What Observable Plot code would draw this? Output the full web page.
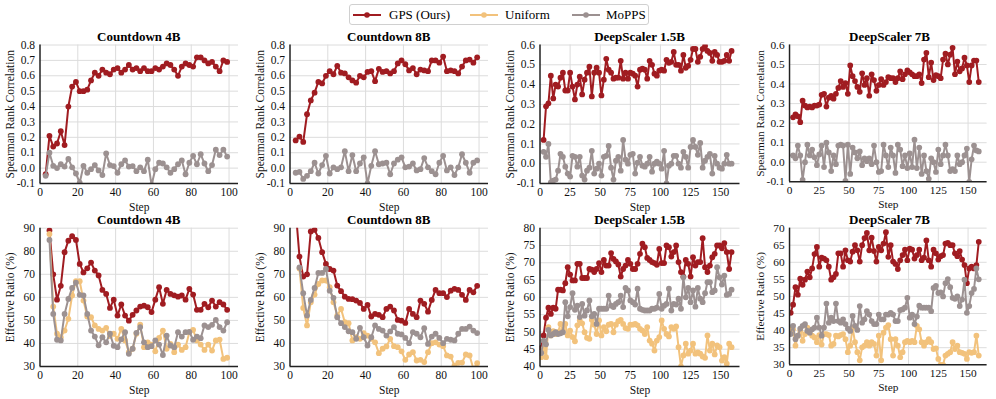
<!DOCTYPE html>
<html><head><meta charset="utf-8">
<script src="https://cdn.jsdelivr.net/npm/d3@7"></script>
<script src="https://cdn.jsdelivr.net/npm/@observablehq/plot@0.6"></script>
<style>
body{margin:0;background:#fff;font-family:"Liberation Serif","Times New Roman",serif;}
#root{position:relative;width:996px;height:399px;overflow:hidden;background:#fff;}
.panel{position:absolute;}
.title{position:absolute;font-weight:bold;font-size:13px;line-height:13px;color:#000;white-space:nowrap;transform:translateX(-50%);}
.legend{position:absolute;left:349px;top:4px;width:300px;height:21px;border:1px solid #d0d0d0;border-radius:3px;background:#fff;box-sizing:border-box;}
.lg-sw{position:absolute;top:3px;}
.lg-tx{position:absolute;top:2px;font-size:13px;line-height:15px;color:#000;white-space:nowrap;}
</style></head>
<body><div id="root"></div>
<script>
// ---------- data ----------
const seriesNames = ["GPS (Ours)", "Uniform", "MoPPS"];
const seriesColors = ["#a01c21", "#f2c27c", "#9c9191"];

const stepsCountdown = [3,5,7,9,11,13,15,17,19,21,23,25,27,29,31,33,35,37,39,41,43,45,47,49,51,53,55,57,59,61,63,65,67,69,71,73,75,77,79,81,83,85,87,89,91,93,95,97,99];
const stepsDeepBottom = [1,3,5,7,9,11,13,15,17,19,21,23,25,27,29,31,33,35,37,39,41,43,45,47,49,51,53,55,57,59,61,63,65,67,69,71,73,75,77,79,81,83,85,87,89,91,93,95,97,99,101,103,105,107,109,111,113,115,117,119,121,123,125,127,129,131,133,135,137,139,141,143,145,147,149,151,153,155,157,159];
const stepsDeepTop = [3,5,7,9,11,13,15,17,19,21,23,25,27,29,31,33,35,37,39,41,43,45,47,49,51,53,55,57,59,61,63,65,67,69,71,73,75,77,79,81,83,85,87,89,91,93,95,97,99,101,103,105,107,109,111,113,115,117,119,121,123,125,127,129,131,133,135,137,139,141,143,145,147,149,151,153,155,157,159];

const panelTitles = ["Countdown 4B", "Countdown 8B", "DeepScaler 1.5B", "DeepScaler 7B"];
const countdownXTicks = [0,20,40,60,80,100];
const deepXTicks = [0,25,50,75,100,125,150];
const corrTicksCountdown = [-0.1,0,0.1,0.2,0.3,0.4,0.5,0.6,0.7,0.8];
const corrTicksDeep = [-0.1,0,0.1,0.2,0.3,0.4,0.5,0.6];
const ratioTicksCountdown = [30,40,50,60,70,80,90];
const ratioTicksDeep15 = [40,45,50,55,60,65,70,75,80];
const ratioTicksDeep7 = [30,35,40,45,50,55,60,65,70];

// Spearman rank correlation (top row)
const cd4CorrGPS = [-0.04,0.21,0.14,0.16,0.24,0.15,0.40,0.53,0.56,0.50,0.50,0.51,0.57,0.62,0.60,0.64,0.62,0.61,0.64,0.65,0.62,0.64,0.67,0.64,0.65,0.63,0.65,0.63,0.63,0.65,0.64,0.66,0.68,0.67,0.64,0.60,0.66,0.68,0.67,0.66,0.72,0.72,0.70,0.68,0.69,0.66,0.63,0.70,0.69];
const cd4CorrMoPPS = [-0.05,0.10,0.015,0.0,0.025,0.01,0.06,0.005,-0.035,-0.095,0.015,-0.03,-0.007,0.02,-0.015,-0.045,0.095,0.02,0.013,-0.03,0.025,0.05,0.01,0.013,-0.02,0.005,-0.02,0.055,-0.11,-0.007,0.035,0.03,0.005,-0.03,-0.007,0.025,0.05,-0.04,0.035,0.08,0.025,0.09,0.03,-0.02,0.02,0.12,0.085,0.12,0.075];
const cd8CorrGPS = [0.18,0.205,0.17,0.35,0.44,0.49,0.56,0.55,0.60,0.63,0.61,0.665,0.62,0.615,0.59,0.57,0.555,0.60,0.59,0.625,0.63,0.565,0.645,0.625,0.63,0.615,0.63,0.68,0.70,0.675,0.635,0.65,0.61,0.64,0.635,0.63,0.70,0.70,0.685,0.725,0.63,0.635,0.63,0.615,0.66,0.70,0.705,0.685,0.72];
const cd8CorrMoPPS = [-0.03,-0.025,-0.07,-0.05,-0.02,0.035,-0.035,0.02,0.08,-0.035,0.005,-0.007,0.005,0.11,-0.02,0.085,-0.02,0.03,0.07,-0.1,0.015,0.11,0.025,0.03,0.035,-0.04,0.03,0.055,0.07,0.005,0.01,0.03,-0.015,-0.007,0.065,0.005,-0.02,-0.04,0.035,0.08,-0.015,0.005,-0.045,0.005,0.09,0.035,-0.03,0.035,0.05];
const ds15CorrGPS = [0.12,0.29,0.305,0.445,0.33,0.40,0.39,0.435,0.46,0.37,0.37,0.46,0.39,0.325,0.40,0.44,0.35,0.425,0.46,0.49,0.34,0.46,0.485,0.46,0.345,0.425,0.53,0.475,0.46,0.43,0.435,0.435,0.52,0.43,0.46,0.43,0.46,0.455,0.445,0.39,0.475,0.48,0.475,0.43,0.52,0.50,0.455,0.445,0.47,0.475,0.47,0.525,0.51,0.515,0.565,0.50,0.50,0.47,0.55,0.485,0.495,0.525,0.58,0.58,0.515,0.54,0.58,0.595,0.57,0.56,0.52,0.565,0.55,0.515,0.515,0.52,0.55,0.52,0.57];
const ds15CorrMoPPS = [0.06,0.035,0.10,-0.095,-0.085,-0.08,-0.035,0.05,0.035,-0.015,-0.05,-0.065,0.04,0.035,-0.015,0.035,-0.06,-0.08,-0.035,-0.02,0.065,-0.05,-0.025,0.0,-0.06,0.035,0.04,0.09,-0.02,-0.08,0.015,0.035,-0.035,0.12,0.02,0.0,0.045,0.05,-0.05,0.005,0.035,-0.01,-0.015,0.0,0.035,-0.04,0.0,0.01,0.0,-0.025,0.065,-0.1,-0.01,0.0,0.04,0.04,0.0,-0.02,0.06,0.035,-0.02,0.085,0.12,0.085,0.045,0.105,-0.02,0.015,0.035,0.05,-0.05,0.04,0.0,-0.02,-0.025,0.0,0.045,0.0,0.0];
const ds7CorrGPS = [0.23,0.245,0.235,0.205,0.315,0.29,0.28,0.285,0.28,0.29,0.29,0.295,0.345,0.35,0.285,0.33,0.34,0.325,0.35,0.38,0.415,0.385,0.405,0.35,0.495,0.44,0.415,0.385,0.36,0.455,0.395,0.43,0.34,0.45,0.42,0.365,0.395,0.425,0.395,0.41,0.435,0.43,0.43,0.41,0.43,0.465,0.425,0.45,0.47,0.46,0.45,0.44,0.44,0.45,0.405,0.525,0.56,0.435,0.51,0.42,0.445,0.44,0.43,0.525,0.555,0.50,0.55,0.585,0.45,0.515,0.465,0.48,0.535,0.495,0.41,0.495,0.52,0.52,0.41];
const ds7CorrMoPPS = [0.035,0.02,0.085,0.035,-0.09,0.0,0.09,0.035,0.065,0.025,-0.015,0.04,0.085,-0.025,0.10,0.05,-0.045,0.035,-0.01,0.085,0.09,0.085,-0.095,0.09,-0.06,0.075,0.05,0.02,0.055,-0.015,0.02,0.005,0.02,-0.01,0.085,0.0,-0.05,-0.045,0.09,0.035,-0.025,0.075,0.035,-0.055,0.09,0.065,-0.02,0.035,-0.03,0.045,-0.025,0.115,-0.03,0.075,-0.06,0.035,-0.045,-0.085,0.02,0.0,-0.05,0.065,-0.01,0.035,0.09,0.035,-0.045,-0.035,-0.045,0.035,-0.01,0.0,0.035,0.07,-0.1,0.015,0.085,0.06,0.055];

// Effective ratio (%) (bottom row)
const cd4RatioGPS = [null,89,70,59,65,79.6,84.6,86.5,84.9,74.5,70.8,72.6,75.1,71.6,69.5,63.2,61.5,55.4,59,52.1,56.9,52.1,49.9,52.4,54.3,56,56.4,55.7,53.6,59,64.4,57.2,63.2,61.5,60.9,60.3,60.8,59,63.7,61.2,54.6,54.6,57.2,55.7,58.6,56,57.9,56.9,54.6];
const cd4RatioUniform = [null,87.5,56,44.2,42.7,45.6,50.7,60.8,67,67,58.6,51.7,51.4,47.8,46.3,45.6,46.8,43.2,44.2,42,46.3,41.3,36.2,37.7,44.2,48.2,38.4,40.5,39.5,36.6,42.4,45.6,37.7,39.8,36.2,39.5,37.2,38.4,44.9,45.9,41.3,39.5,37.2,39.5,36.9,41.3,41.7,33.3,33.8];
const cd4RatioMoPPS = [null,84.9,52.8,41.6,41.3,52.8,59.3,64.1,66.4,61.1,60.8,52.8,45.6,43,39.2,42.7,40.5,44.2,39,38.4,41.8,44.9,35.5,37.7,44.6,47.1,40.5,38.4,38.8,41.3,39.5,35,43.4,39.1,38.4,44.9,43,44.9,45,41.6,43,42.3,47.8,47.1,48.1,50.2,47.1,45.6,49.2];
const cd8RatioGPS = [98,77.7,69,70,88.6,89.3,85.8,79.6,74.5,72.3,71.6,65.1,62.7,60.3,59.3,59.2,58.6,57.6,55,56.7,51.7,52.8,52.4,51.4,55,56,54.3,50.2,49.9,48.9,55,52.8,51.4,58.6,57.2,53.8,58.9,63.2,61.8,61.8,60.1,62.9,63.7,63.2,61.1,58.9,63.2,62.2,65];
const cd8RatioUniform = [null,72.5,55.4,47.8,57.9,61.2,65.8,67.3,67.3,64.4,57.9,52.1,55,49.2,48.8,41.3,42.7,42,44.5,43.4,42,40.5,35.8,37.7,38.7,42,38.8,38.4,36.6,32.9,35.2,36.2,32.6,32.9,31.9,36.2,40.1,40.5,39.5,38.8,34.8,34.3,30.4,31.6,31.7,35.2,34.8,29,31.4];
const cd8RatioMoPPS = [null,73,61.8,52.1,58.9,64.1,70.6,70.6,72.3,62.9,59.8,51.4,48.8,47.1,45.3,44.9,42,46.8,42.7,39.1,42.7,47.8,46.3,45.6,43.4,45.2,47.1,44.2,43.9,42.4,40.1,44.9,44.2,42.7,46.6,39.8,43,44.2,42.4,40.1,42,41.6,41.3,44.2,46.3,46.3,47.3,45.6,44.5];
const ds15RatioGPS = [45.4,49,54.1,57,55.2,57,56.7,62.2,62.2,62,64.1,68.7,66.6,64.9,64.9,69.7,69.7,65.6,65.6,65.6,68.2,68,67.3,68.2,69.9,67.3,70.8,69.2,69.2,72.8,71.1,70.4,69.5,66,68.2,69.2,70.8,69.7,68.2,68.2,69.7,72.6,75.5,74.5,71.4,70.8,70.2,69.9,69.4,74,69.9,69.9,75,74.5,71.8,73.1,75,70.2,67.3,66,70.8,69.7,66,71.6,69.2,70.2,70.2,77.1,68.7,67.3,69.2,71.6,72.6,75,75,74.2,75.7,73.1,68.2,73.1];
const ds15RatioUniform = [42.7,45.1,42.7,51.4,49,50.2,49.4,49.9,52.3,50.6,52.3,49,50.4,48.5,47.3,51.9,53.3,52.5,49.9,48.3,48,53.5,52.1,49.4,53.3,49,51.4,50.2,52.1,52.3,49.9,52.1,53.1,53.5,52.3,51.1,50.9,52.1,52.1,52.3,51.9,50.9,50.4,49.4,51.4,47.5,46.6,44.6,47.5,48.5,53.3,50.9,49.4,48.7,51.4,50.9,51.6,45.6,40,43.2,46.6,43.7,44.6,46.6,43.7,44.1,43.7,42.9,42.5,49,44.6,46.6,43.5,46.1,45.6,41.7,42.7,40.8,46.6,45.6];
const ds15RatioMoPPS = [43.9,47.5,46.4,50.6,49,49.4,49.9,49.4,49.6,49.9,58.6,54.5,57.2,61.2,56.4,57.6,54.3,58.1,54.7,56.2,59.1,54.5,55.2,52.3,56.7,56.7,56.7,56.7,60.5,57.6,57.2,58.1,58.6,60.5,57.2,62.7,62,59.1,58.6,57.9,62.5,56.7,56.4,56.2,56.2,56.2,56.7,56.7,57,61,56.7,57.6,58.1,62.5,56.2,58.1,57.9,59.6,56.7,65.8,60,62.7,58.6,62,57.3,62.7,59.6,58.6,61.2,64.4,64.4,61.5,62,68.7,65.8,63.7,66.3,60.7,61,62.2];
const ds7RatioGPS = [45.2,47.6,52.7,50.5,55.2,53.4,54.9,57.3,55.6,58.2,62.4,64.5,58.7,61.4,61.1,60.6,58.7,54.9,55.6,56.6,62.6,62.6,58.7,63.5,60.6,60.2,63.1,65,63.5,60.2,65,67.1,68.6,63.5,67.2,63.3,60.2,64.5,63.5,65.5,68.8,61.6,65,60.2,59.5,58,60.6,62.1,63.7,60.6,64,63.7,61.1,62.1,63.7,60.6,61.4,66.4,60.6,58.7,63.7,62.6,60.8,61.8,62.1,65.5,65.7,65,65,62.6,61.8,63.3,60.8,59.2,53.9,58.2,58.7,58.2,59.2,66];
const ds7RatioUniform = [40.4,40.4,35.6,38.5,39.9,37,39,40.9,39.4,38.5,38,36.6,38.7,35.9,39,39,38.7,35.6,36.1,38.5,38.3,38.7,39,37.5,33.7,35.6,40.9,36.6,33.7,31.3,35.1,35.6,36.6,35.6,36.6,36.1,32.7,38.5,31.3,39.4,40.9,41.6,37.5,32.7,37.5,35.6,32.2,33.7,36.6,37,36.6,37,36.6,41.4,40.4,36.6,35.6,36.6,37.5,36.6,34.6,34.8,31.7,30,30,32.7,33.2,33.7,36.6,34.6,35.6,33.7,33.5,33.2,31.7,33.7,33.5,33.7,38.5,32.7];
const ds7RatioMoPPS = [39,41.4,37.5,38.5,40.6,41.4,41.9,39.9,39.4,40.4,40.9,43.8,40.9,38.5,40.9,47.9,42.3,43.8,42.8,47.9,42.8,42.3,43.3,41.9,40.6,39.9,44.3,41.4,40.2,47.2,42.3,43.3,45.7,44.7,42.8,41.9,41.9,44.7,43.3,43.3,44.7,44.7,45.2,44.7,42.8,42.8,46,46.2,46.7,49.6,43.8,44.7,41.9,44.1,47.3,46.7,46.7,46.7,46.7,45.7,52.5,53.1,51,51.2,50,53.9,55.1,52.7,49.6,49.3,50,47.2,49.1,54.9,45.2,47.2,51,52.2,58.2,55];

// ---------- drawing ----------
const root = document.getElementById("root");
const FONT = "'Liberation Serif','Times New Roman',serif";
const fmt1 = d => d.toFixed(1);
const fmt0 = d => String(d);

function makePanel(cfg) {
  const {left, top, marginTop, innerH, title, steps, series, xDomain, xTicks, yDomain, yTicks, yLabel, yFormat, marginRight} = cfg;
  const marginLeft = 39.5, marginBottom = 30, width = 249;
  const marks = [
    Plot.ruleY(yTicks.filter(t => t > yDomain[0]), {stroke: "#dcdcdc", strokeWidth: 1}),
    Plot.ruleX(xTicks.filter(t => t > xDomain[0]), {stroke: "#dcdcdc", strokeWidth: 1})
  ];
  for (const s of series) {
    const rows = steps.map((x, i) => ({x, y: s.values[i]})).filter(d => d.y != null);
    marks.push(Plot.line(rows, {x: "x", y: "y", stroke: s.color, strokeWidth: 2, clip: true}));
    marks.push(Plot.dot(rows, {x: "x", y: "y", fill: s.color, r: 2.9, clip: true}));
  }
  marks.push(Plot.ruleX([xDomain[0]], {stroke: "#222", strokeWidth: 1.5}));
  marks.push(Plot.ruleY([yDomain[0]], {stroke: "#222", strokeWidth: 1.5}));
  const height = marginTop + innerH + marginBottom;
  const svg = Plot.plot({
    width, height, marginLeft, marginRight, marginTop, marginBottom,
    style: {fontFamily: FONT, fontSize: "11.5px", color: "#111", background: "transparent", overflow: "visible"},
    x: {domain: xDomain, ticks: xTicks, tickSize: 0, tickPadding: 4, tickFormat: fmt0,
        label: "Step", labelAnchor: "center", labelOffset: 27, labelArrow: "none"},
    y: {domain: yDomain, ticks: yTicks, tickSize: 0, tickPadding: 5, tickFormat: yFormat,
        label: yLabel, labelAnchor: "center", labelOffset: 34, labelArrow: "none"},
    marks
  });
  const wrap = document.createElement("div");
  wrap.className = "panel";
  wrap.style.left = left + "px";
  wrap.style.top = top + "px";
  wrap.appendChild(svg);
  root.appendChild(wrap);
  const t = document.createElement("div");
  t.className = "title";
  t.textContent = title;
  const plotW = width - marginLeft - marginRight;
  t.style.left = (left + marginLeft + plotW / 2) + "px";
  t.style.top = (top + marginTop - 14.5) + "px";
  root.appendChild(t);
}

const colLefts = [0, 250, 500, 750];
const topCorr = [
  {steps: stepsCountdown, vals: [cd4CorrGPS, null, cd4CorrMoPPS], xDomain: [0,105], xTicks: countdownXTicks, yDomain: [-0.1,0.8], yTicks: corrTicksCountdown, mr: 11},
  {steps: stepsCountdown, vals: [cd8CorrGPS, null, cd8CorrMoPPS], xDomain: [0,105], xTicks: countdownXTicks, yDomain: [-0.1,0.8], yTicks: corrTicksCountdown, mr: 11},
  {steps: stepsDeepTop, vals: [ds15CorrGPS, null, ds15CorrMoPPS], xDomain: [0,166], xTicks: deepXTicks, yDomain: [-0.1,0.6], yTicks: corrTicksDeep, mr: 9.5},
  {steps: stepsDeepTop, vals: [ds7CorrGPS, null, ds7CorrMoPPS], xDomain: [0,166], xTicks: deepXTicks, yDomain: [-0.1,0.6], yTicks: corrTicksDeep, mr: 9.5}
];
const bottomRatio = [
  {steps: stepsCountdown, vals: [cd4RatioGPS, cd4RatioUniform, cd4RatioMoPPS], xDomain: [0,105], xTicks: countdownXTicks, yDomain: [30,90], yTicks: ratioTicksCountdown, mr: 11},
  {steps: stepsCountdown, vals: [cd8RatioGPS, cd8RatioUniform, cd8RatioMoPPS], xDomain: [0,105], xTicks: countdownXTicks, yDomain: [30,90], yTicks: ratioTicksCountdown, mr: 11},
  {steps: stepsDeepBottom, vals: [ds15RatioGPS, ds15RatioUniform, ds15RatioMoPPS], xDomain: [0,166], xTicks: deepXTicks, yDomain: [40,80], yTicks: ratioTicksDeep15, mr: 9.5},
  {steps: stepsDeepBottom, vals: [ds7RatioGPS, ds7RatioUniform, ds7RatioMoPPS], xDomain: [0,166], xTicks: deepXTicks, yDomain: [30,70], yTicks: ratioTicksDeep7, mr: 9.5}
];

function seriesFor(vals) {
  const out = [];
  vals.forEach((v, i) => { if (v) out.push({values: v, color: seriesColors[i]}); });
  return out;
}

topCorr.forEach((p, i) => makePanel({
  left: colLefts[i], top: 40, marginTop: 4.5, innerH: 138.5, title: panelTitles[i],
  steps: p.steps, series: seriesFor(p.vals), xDomain: p.xDomain, xTicks: p.xTicks,
  yDomain: p.yDomain, yTicks: p.yTicks, yLabel: "Spearman Rank Correlation", yFormat: fmt1, marginRight: p.mr
}));
bottomRatio.forEach((p, i) => makePanel({
  left: colLefts[i], top: 223, marginTop: 4.7, innerH: 138.3, title: panelTitles[i],
  steps: p.steps, series: seriesFor(p.vals), xDomain: p.xDomain, xTicks: p.xTicks,
  yDomain: p.yDomain, yTicks: p.yTicks, yLabel: "Effective Ratio (%)", yFormat: fmt0, marginRight: p.mr
}));

// legend
const legend = document.createElement("div");
legend.className = "legend";
const swatchX = [3, 120, 222];
const textX = [39, 155, 256];
seriesNames.forEach((name, i) => {
  const sw = document.createElementNS("http://www.w3.org/2000/svg", "svg");
  sw.setAttribute("width", 28); sw.setAttribute("height", 14);
  sw.setAttribute("class", "lg-sw");
  sw.style.left = swatchX[i] + "px";
  sw.innerHTML = `<line x1="0" y1="7" x2="28" y2="7" stroke="${seriesColors[i]}" stroke-width="2"/><circle cx="14" cy="7" r="2.8" fill="${seriesColors[i]}"/>`;
  legend.appendChild(sw);
  const tx = document.createElement("div");
  tx.className = "lg-tx";
  tx.style.left = textX[i] + "px";
  tx.textContent = name;
  legend.appendChild(tx);
});
root.appendChild(legend);
</script>
</body></html>
